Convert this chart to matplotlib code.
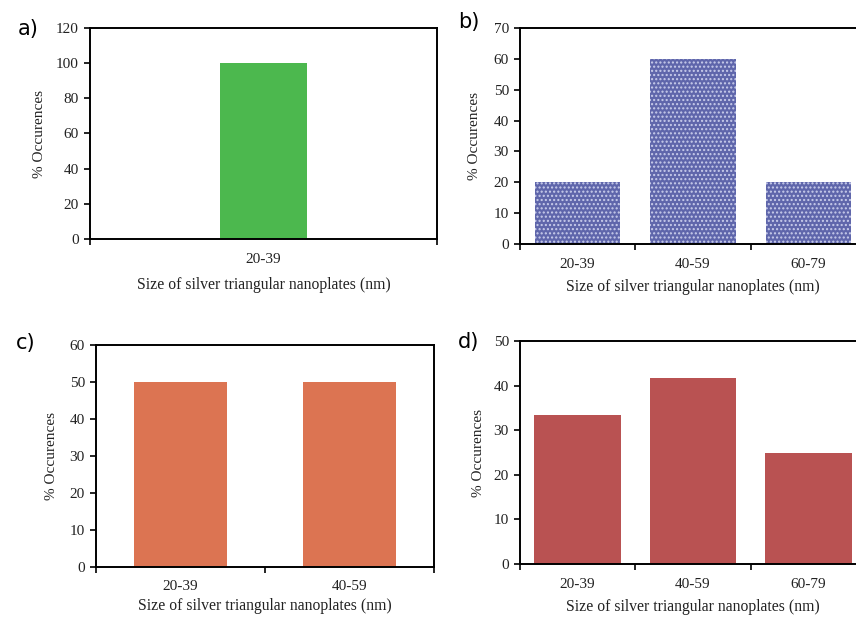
import matplotlib
matplotlib.use("Agg")
import matplotlib.pyplot as plt
import numpy as np

# ---- data ----
cats_a = ["20-39"]
vals_a = [100]
cats_b = ["20-39", "40-59", "60-79"]
vals_b = [20, 60, 20]
cats_c = ["20-39", "40-59"]
vals_c = [50, 50]
cats_d = ["20-39", "40-59", "60-79"]
vals_d = [33.3, 41.7, 25]

ylims = {"a": (0, 120, 20), "b": (0, 70, 10), "c": (0, 60, 10), "d": (0, 50, 10)}

xlabel = "Size of silver triangular nanoplates (nm)"
ylabel = "% Occurences"

W, H = 856, 619
fig = plt.figure(figsize=(W / 100, H / 100), dpi=100)

serif = "Liberation Serif"

def px_axes(left, top, right, bottom):
    return fig.add_axes([left / W, 1 - bottom / H, (right - left) / W, (bottom - top) / H])

panels = [
    ("a", cats_a, vals_a, (90, 28, 437, 239), 0.25, dict(color="#4cb84e"), (28, 29), 40, 8, 10),
    ("b", cats_b, vals_b, (520, 28, 866, 244), 0.74,
     dict(color="#5f66ab", edgecolor="#c9cdeb", hatch="....", linewidth=0), (469, 22), 475, 6, 10),
    ("c", cats_c, vals_c, (96, 345, 434, 567), 0.545, dict(color="#dc7452"), (26, 343), 52, 4, 9),
    ("d", cats_d, vals_d, (520, 341, 866, 564), 0.75, dict(color="#b95252"), (469, 342), 479, 6, 10),
]

for label, cats, vals, box, bw, style, lab_xy, ylab_x, lpad, tpad in panels:
    ax = px_axes(*box)
    x = np.arange(len(cats))
    ax.bar(x, vals, width=bw, **style, zorder=2)
    lo, hi, step = ylims[label]
    ax.set_ylim(lo, hi)
    ax.set_yticks(np.arange(lo, hi + step / 2, step))
    ax.set_xlim(-0.5, len(cats) - 0.5)
    ax.set_xticks(x)
    ax.set_xticklabels(cats, fontfamily=serif, fontsize=11)
    ax.set_xticks(np.arange(-0.5, len(cats)), minor=True)
    ax.tick_params(axis="x", which="major", length=0, pad=tpad)
    ax.tick_params(axis="x", which="minor", length=4, width=1.2, direction="out")
    ax.tick_params(axis="y", length=4, width=1.2, direction="out", pad=4)
    for t in ax.get_yticklabels():
        t.set_fontfamily(serif)
        t.set_fontsize(11)
        t.set_color("#222222")
    for t in ax.get_xticklabels():
        t.set_color("#222222")
    for s in ax.spines.values():
        s.set_linewidth(1.4)
        s.set_color("black")
    ax.set_xlabel(xlabel, fontfamily=serif, fontsize=11.3, labelpad=lpad, color="#222222")
    ax.set_ylabel(ylabel, fontfamily=serif, fontsize=11, color="#222222")
    ax.yaxis.set_label_coords((ylab_x + 6 - box[0]) / (box[2] - box[0]), 0.5)
    fig.text(lab_xy[0] / W, 1 - lab_xy[1] / H, label + ")", fontsize=15,
             fontfamily="DejaVu Sans", ha="center", va="center")

fig.savefig("out.png", dpi=100)
